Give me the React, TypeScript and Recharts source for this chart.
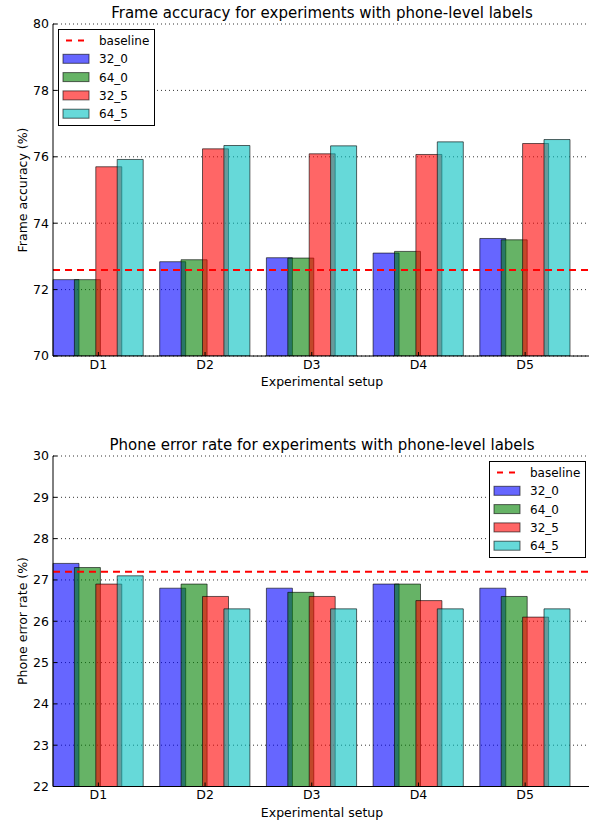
import React from 'react';
import {
    BarChart,
    Bar,
    XAxis,
    YAxis,
    CartesianGrid,
    ReferenceLine,
    Legend,
} from 'recharts';

const FONT = '"DejaVu Sans", sans-serif';

const categories = ['D1', 'D2', 'D3', 'D4', 'D5'];
const seriesNames = ['32_0', '64_0', '32_5', '64_5'];
const seriesColors = ['#0000ff', '#008000', '#ff0000', '#00bfbf'];

// frame accuracy (%)
const frame32_0 = [72.3, 72.84, 72.96, 73.1, 73.54];
const frame64_0 = [72.3, 72.9, 72.95, 73.15, 73.5];
const frame32_5 = [75.7, 76.24, 76.09, 76.07, 76.4];
const frame64_5 = [75.92, 76.34, 76.33, 76.45, 76.52];
const frameBaseline = 72.59;
const frameTicks = [70, 72, 74, 76, 78, 80];

// phone error rate (%)
const per32_0 = [27.4, 26.8, 26.8, 26.9, 26.8];
const per64_0 = [27.3, 26.9, 26.7, 26.9, 26.6];
const per32_5 = [26.9, 26.6, 26.6, 26.5, 26.1];
const per64_5 = [27.1, 26.3, 26.3, 26.3, 26.3];
const perBaseline = 27.2;
const perTicks = [22, 23, 24, 25, 26, 27, 28, 29, 30];

function buildRows(series: number[][]) {
    return categories.map((name, i) => {
        const row: any = { name };
        seriesNames.forEach((s, j) => {
            row[s] = series[j][i];
        });
        return row;
    });
}

const frameRows = buildRows([frame32_0, frame64_0, frame32_5, frame64_5]);
const perRows = buildRows([per32_0, per64_0, per32_5, per64_5]);

function LegendBox() {
    const w = 97;
    const h = 97;
    return (
        <svg width={w} height={h} style={{ display: 'block' }}>
            <rect x={0.5} y={0.5} width={w - 1} height={h - 1} fill="#fff" stroke="#000" strokeWidth={1} />
            <line x1={8} x2={28} y1={11.5} y2={11.5} stroke="#ff0000" strokeWidth={2} strokeDasharray="6 6" />
            <text x={41} y={16} fontSize={12} fontFamily={FONT} fill="#000">baseline</text>
            {seriesNames.map((s, i) => {
                const cy = 29.8 + 18.3 * i;
                return (
                    <g key={s}>
                        <rect x={5} y={cy - 4.5} width={26} height={9} fill={seriesColors[i]} fillOpacity={0.6} stroke="#000" strokeOpacity={0.6} />
                        <text x={41} y={cy + 4.5} fontSize={12} fontFamily={FONT} fill="#000">{s}</text>
                    </g>
                );
            })}
        </svg>
    );
}

interface PanelProps {
    rows: any[];
    domain: [number, number];
    ticks: number[];
    baseline: number;
    marginTop: number;
    marginBottom: number;
    legendPos: { left: number; top: number };
}

function Panel({ rows, domain, ticks, baseline, marginTop, marginBottom, legendPos }: PanelProps) {
    const tickStyle = { fill: '#000', fontSize: 12.5, fontFamily: FONT };
    return (
        <BarChart
            width={600}
            height={400}
            data={rows}
            barSize={26}
            barGap={-4.6}
            margin={{ top: marginTop, right: 9, left: 0, bottom: marginBottom }}
        >
            <CartesianGrid vertical={false} stroke="#000" strokeDasharray="1 3" strokeWidth={0.8} />
            <XAxis
                dataKey="name"
                height={30}
                padding={{ left: -8, right: 12.5 }}
                tick={tickStyle}
                tickSize={-4}
                tickMargin={8}
                axisLine={{ stroke: '#000' }}
                tickLine={{ stroke: '#000' }}
                interval={0}
            />
            <XAxis
                xAxisId="top"
                orientation="top"
                dataKey="name"
                height={0}
                padding={{ left: -8, right: 12.5 }}
                tick={false}
                tickSize={-4}
                axisLine={{ stroke: '#000' }}
                tickLine={{ stroke: '#000' }}
                interval={0}
            />
            <YAxis
                width={53}
                domain={domain}
                ticks={ticks}
                interval={0}
                allowDataOverflow
                tick={tickStyle}
                tickSize={-4}
                tickMargin={8}
                axisLine={{ stroke: '#000' }}
                tickLine={{ stroke: '#000' }}
            />
            <YAxis
                yAxisId="right"
                orientation="right"
                width={0}
                domain={domain}
                ticks={ticks}
                interval={0}
                allowDataOverflow
                tick={false}
                tickSize={-4}
                axisLine={{ stroke: '#000' }}
                tickLine={{ stroke: '#000' }}
            />
            <Legend
                layout="vertical"
                align="center"
                verticalAlign="middle"
                content={() => <LegendBox />}
                wrapperStyle={{ left: legendPos.left, top: legendPos.top, width: 97, height: 97 }}
            />
            {seriesNames.map((s, i) => (
                <Bar
                    key={s}
                    dataKey={s}
                    name={s}
                    fill={seriesColors[i]}
                    fillOpacity={0.6}
                    stroke="#000"
                    strokeOpacity={0.6}
                    strokeWidth={1}
                    isAnimationActive={false}
                />
            ))}
            <ReferenceLine y={baseline} stroke="#ff0000" strokeWidth={2} strokeDasharray="7 5" />
        </BarChart>
    );
}

export default function App() {
    return (
        <div style={{ position: 'absolute', left: 0, top: 0, width: 589, height: 823, overflow: 'hidden', background: '#fff' }}>
            <div style={{ position: 'absolute', left: 0, top: 0 }}>
                <Panel
                    rows={frameRows}
                    domain={[70, 80]}
                    ticks={frameTicks}
                    baseline={frameBaseline}
                    marginTop={24}
                    marginBottom={14}
                    legendPos={{ left: 58, top: 29 }}
                />
            </div>
            <div style={{ position: 'absolute', left: 0, top: 430 }}>
                <Panel
                    rows={perRows}
                    domain={[22, 30]}
                    ticks={perTicks}
                    baseline={perBaseline}
                    marginTop={26}
                    marginBottom={13.5}
                    legendPos={{ left: 489, top: 31 }}
                />
            </div>
            <svg width={589} height={823} style={{ position: 'absolute', left: 0, top: 0, pointerEvents: 'none' }}>
                <g fontFamily={FONT} fill="#000" textAnchor="middle">
                    <text x={322} y={18} fontSize={15}>Frame accuracy for experiments with phone-level labels</text>
                    <text x={322} y={386} fontSize={12.5}>Experimental setup</text>
                    <text x={0} y={0} fontSize={12.5} transform="translate(27,190) rotate(-90)">Frame accuracy (%)</text>
                    <text x={322} y={449.5} fontSize={15}>Phone error rate for experiments with phone-level labels</text>
                    <text x={322} y={816.5} fontSize={12.5}>Experimental setup</text>
                    <text x={0} y={0} fontSize={12.5} transform="translate(27,621) rotate(-90)">Phone error rate (%)</text>
                </g>
            </svg>
        </div>
    );
}
